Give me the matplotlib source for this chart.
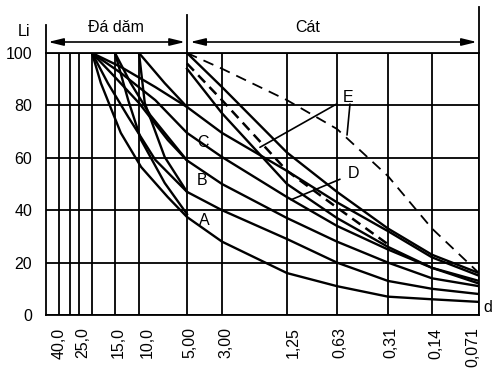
import numpy as np
import matplotlib
matplotlib.use("Agg")
import matplotlib.pyplot as plt
from matplotlib.transforms import ScaledTranslation
from matplotlib import font_manager

# ---------------- data ----------------
sieve_labels = ['40,0', '25,0', '15,0', '10,0', '5,00', '3,00', '1,25', '0,63', '0,31', '0,14', '0,071']
sieve_labeled = [40, 25, 15, 10, 5, 3, 1.25, 0.63, 0.31, 0.14, 0.071]
sieve_unlabeled = [30, 20]
y_ticks = [0, 20, 40, 60, 80, 100]

# coarse (đá dăm) curves starting at 20 mm: sizes (mm) and passing (%)
c1_sizes = [20, 13.6, 7.9, 5, 3, 1.25, 0.63, 0.31, 0.14, 0.071]
c1 = [100, 94.7, 87, 79.4, 69.5, 55, 43, 32, 22, 15]
c2_sizes = [20, 13.6, 7.9, 5, 3, 1.25, 0.63, 0.31, 0.14, 0.071]
c2 = [100, 92.4, 82, 69.5, 60.3, 45, 34, 25, 18, 13]
c3_sizes = [20, 15, 10, 6.6, 5, 3, 1.25, 0.63, 0.31, 0.14, 0.071]
c3 = [100, 90.8, 80.9, 66.8, 59, 50, 37, 28, 20, 14, 11]
c4_sizes = [20, 16.4, 12.0, 7.9, 5, 3, 1.25, 0.63, 0.31, 0.14, 0.071]
c4 = [100, 88.5, 75.6, 59.2, 47, 40, 29, 20, 13, 10, 8]
c5_sizes = [20, 17.9, 13.6, 9.7, 6.6, 5, 3, 1.25, 0.63, 0.31, 0.14, 0.071]
c5 = [100, 88.5, 69.5, 56.5, 45, 37.4, 28, 16, 11, 7, 6, 5]

# curves starting at 15 mm and 10 mm
c6_sizes = [15, 12.0, 9.7, 6.9, 5]
c6 = [100, 82, 66.8, 50.4, 38.5]
c7_sizes = [15, 11.5, 8.5, 5]
c7 = [100, 88.5, 76.3, 59]
c8_sizes = [10, 6.9, 5]
c8 = [100, 88.5, 79.4]
c9_sizes = [10, 9.2, 6.9, 5]
c9 = [100, 80.9, 60.3, 47]

# sand (cát) curves
sand_sizes = [5, 3, 1.25, 0.63, 0.31, 0.14, 0.071]
d1 = [100, 87, 62, 47, 33, 23, 16]
d2 = [94, 77, 50, 37, 26, 18, 12]
e1 = [100, 94, 82, 71, 53, 33, 16]          # long dashed
e2_sizes = [5, 3, 1.25, 0.63, 0.31]
e2 = [96, 82, 55, 41, 27]                    # short dashed

# ---------------- x scale (non-uniform sieve axis) ----------------
axis_sizes = np.array([6000, 60, 40, 30, 25, 20, 15, 10, 5, 3, 1.25, 0.63, 0.31, 0.14, 0.071, 0.00071])
axis_pos = np.array([-270, 46, 58.7, 70, 79, 92, 115, 139, 187, 222, 287, 337, 388, 432, 479, 795])
_lx = np.log10(axis_sizes[::-1])     # increasing
_fp = -axis_pos[::-1]                # increasing


def fwd(x):
    x = np.clip(np.asarray(x, dtype=float), 1e-9, None)
    return np.interp(np.log10(x), _lx, _fp)


def inv(q):
    q = np.asarray(q, dtype=float)
    return 10 ** np.interp(q, _fp, _lx)


fams = {f.name for f in font_manager.fontManager.ttflist}
if 'Liberation Sans Narrow' in fams:
    plt.rcParams['font.family'] = ['Liberation Sans Narrow', 'DejaVu Sans']
    FS = 13
else:
    plt.rcParams['font.family'] = ['Liberation Sans', 'DejaVu Sans']
    FS = 11.5

fig = plt.figure(figsize=(4.92, 3.70), dpi=100)
ax = fig.add_axes([46 / 492, 1 - 315 / 370, 433 / 492, 262 / 370])
ax.set_xscale('function', functions=(fwd, inv))

LW_GRID = 1.3
LW = 1.7
for s in ax.spines.values():
    s.set_linewidth(LW_GRID)

ax.set_xticks(sieve_labeled)
ax.set_xticklabels(sieve_labels, rotation=90, fontsize=FS, va='top', ha='center')
ax.set_xticks(sieve_unlabeled, minor=True)
ax.set_yticks(y_ticks)
ax.set_yticklabels([str(v) for v in y_ticks], fontsize=FS)
ax.tick_params(axis='both', which='both', length=0)
ax.tick_params(axis='x', pad=9)
ax.tick_params(axis='y', pad=10)
ax.grid(True, which='both', axis='both', color='black', lw=LW_GRID)
ax.set_axisbelow(True)

# shift x tick labels slightly off their grid lines (pixels)
label_dx = [0, 4, 3, 8, 3, 4, 6, 3, 3, 4, -6]
for lab, dx in zip(ax.get_xticklabels(), label_dx):
    lab.set_transform(lab.get_transform() + ScaledTranslation(dx / 100, 0, fig.dpi_scale_trans))

k = 'black'
for xs_, ys_ in ((c1_sizes, c1), (c2_sizes, c2), (c3_sizes, c3), (c4_sizes, c4), (c5_sizes, c5),
                 (c6_sizes, c6), (c7_sizes, c7), (c8_sizes, c8), (c9_sizes, c9),
                 (sand_sizes, d1), (sand_sizes, d2)):
    ax.plot(xs_, ys_, color=k, lw=LW, solid_joinstyle='round')
ax.plot(sand_sizes, e1, color=k, lw=1.3, dashes=(6, 4))
ax.plot(e2_sizes, e2, color=k, lw=1.8, dashes=(4, 2.5))

# zone labels
for txt, xs, yv in (('C', 3.96, 66), ('B', 3.99, 51.5), ('A', 3.9, 36)):
    ax.text(xs, yv, txt, fontsize=FS, ha='center', va='center')

ax.annotate('E', xy=(1.8, 64), xytext=(0.54, 83), fontsize=FS, ha='center', va='center',
            arrowprops=dict(arrowstyle='-', lw=1.2, color=k, shrinkA=3, shrinkB=0))
ax.annotate('', xy=(0.548, 68.7), xytext=(0.526, 80.5),
            arrowprops=dict(arrowstyle='-', lw=1.2, color=k, shrinkA=0, shrinkB=0))
ax.annotate('D', xy=(1.18, 44), xytext=(0.50, 54), fontsize=FS, ha='center', va='center',
            arrowprops=dict(arrowstyle='-', lw=1.2, color=k, shrinkA=4, shrinkB=0))

# header: extended vertical lines, arrows and zone names
xt = ax.get_xaxis_transform()
ax.plot([5, 5], [1, (315 - 15) / 262], transform=xt, color=k, lw=LW_GRID, clip_on=False)
ax.plot([0, 0], [1, (315 - 25) / 262], transform=ax.transAxes, color=k, lw=LW_GRID, clip_on=False)
ax.plot([1, 1], [1, (315 - 7) / 262], transform=ax.transAxes, color=k, lw=LW_GRID, clip_on=False)
ya = (315 - 42) / 262
ap = dict(arrowstyle='<|-|>,head_length=0.9,head_width=0.22', lw=1.2, color=k, shrinkA=0, shrinkB=0)
ax.annotate('', xy=(0.005, ya), xytext=(0.321, ya), xycoords='axes fraction', arrowprops=ap)
ax.annotate('', xy=(0.333, ya), xytext=(0.995, ya), xycoords='axes fraction', arrowprops=ap)
ax.text(0.162, (315 - 27) / 262, 'Đá dăm', transform=ax.transAxes, fontsize=FS, ha='center', va='center')
ax.text(0.605, (315 - 27) / 262, 'Cát', transform=ax.transAxes, fontsize=FS, ha='center', va='center')
ax.text(-0.051, (315 - 32) / 262, 'Li', transform=ax.transAxes, fontsize=FS, ha='center', va='center')
ax.text(1.021, (315 - 307) / 262, 'd', transform=ax.transAxes, fontsize=FS, ha='center', va='center')

ax.set_xlim(60, 0.071)
ax.set_ylim(0, 100)

fig.savefig('out.png', dpi=100)
